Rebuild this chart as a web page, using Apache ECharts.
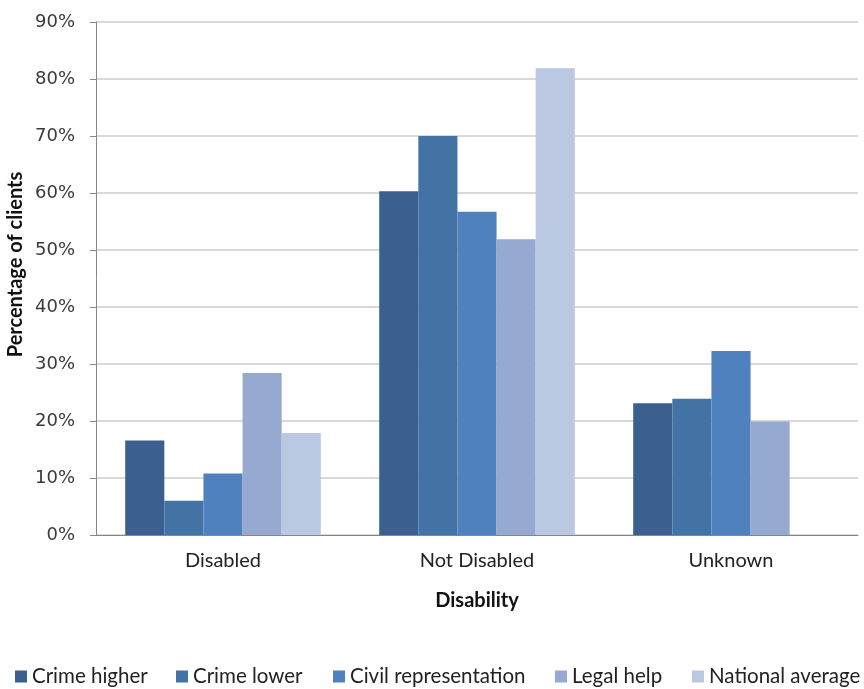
<!DOCTYPE html>
<html>
<head>
<meta charset="utf-8">
<script src="https://cdn.jsdelivr.net/npm/echarts@6/dist/echarts.min.js"></script>
<style>
  html, body { margin: 0; padding: 0; background: #fff; }
  #chart { width: 864px; height: 689px; }
</style>
</head>
<body>
<div id="chart"></div>
<script>
// Share of clients by disability status, per funding stream (percent)
const categories = ['Disabled', 'Not Disabled', 'Unknown'];
const seriesNames = ['Crime higher', 'Crime lower', 'Civil representation', 'Legal help', 'National average'];
const crimeHigher = [16.6, 60.3, 23.1];
const crimeLower = [6.0, 70.0, 23.9];
const civilRepresentation = [10.8, 56.7, 32.3];
const legalHelp = [28.4, 51.9, 19.9];
const nationalAverage = [17.9, 81.9, null];
const yTicks = [0, 10, 20, 30, 40, 50, 60, 70, 80, 90];

const values = [crimeHigher, crimeLower, civilRepresentation, legalHelp, nationalAverage];
const colors = ['#3b5f8e', '#4372a5', '#4e81bd', '#95a9d1', '#bac8e1'];
// left edge of each legend entry along the bottom row
const legendLeft = [15, 176, 333, 555, 692];

const font = 'Lato, "Open Sans", sans-serif';
const tickFont = '"DejaVu Sans", Verdana, sans-serif';

const chart = echarts.init(document.getElementById('chart'), null, { renderer: 'canvas' });

chart.setOption({
  animation: false,
  backgroundColor: '#ffffff',
  grid: { left: 96, right: 6, top: 22, bottom: 154, containLabel: false, outerBoundsMode: 'none' },
  legend: seriesNames.map((name, i) => ({
    data: [name],
    left: legendLeft[i],
    top: 666,
    padding: 0,
    itemWidth: 12,
    itemHeight: 12,
    itemGap: 0,
    icon: 'rect',
    textStyle: { fontFamily: font, fontSize: 20.5, color: '#222' }
  })),
  xAxis: {
    type: 'category',
    data: categories,
    name: 'Disability',
    nameLocation: 'middle',
    nameGap: 56,
    nameMoveOverlap: false,
    nameTextStyle: { fontFamily: font, fontSize: 20, fontWeight: 'bold', color: '#111' },
    axisLine: { lineStyle: { color: '#868686', width: 1 } },
    axisTick: { show: false },
    axisLabel: { fontFamily: font, fontSize: 20, color: '#222', margin: 16 }
  },
  yAxis: {
    type: 'value',
    min: 0,
    max: 90,
    interval: 10,
    name: 'Percentage of clients',
    nameLocation: 'middle',
    nameGap: 70,
    nameMoveOverlap: false,
    nameTextStyle: { fontFamily: font, fontSize: 20, fontWeight: 'bold', color: '#111', padding: [0, 0, 0, 28] },
    axisLine: { show: true, lineStyle: { color: '#868686', width: 1 } },
    axisTick: { show: true, inside: false, length: 6, lineStyle: { color: '#868686' } },
    axisLabel: {
      fontFamily: tickFont, fontSize: 18, color: '#3a3a3a', margin: 21,
      formatter: v => (yTicks.includes(v) ? v + '%' : '')
    },
    splitLine: { show: true, lineStyle: { color: '#d9d9d9', width: 2 } }
  },
  series: seriesNames.map((name, i) => ({
    name,
    type: 'bar',
    data: values[i],
    barGap: '0%',
    barCategoryGap: '23%',
    itemStyle: { color: colors[i] }
  }))
});
</script>
</body>
</html>
